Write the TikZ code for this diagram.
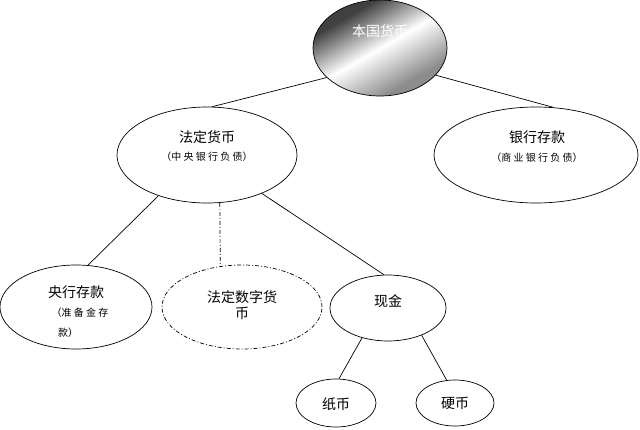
\documentclass[tikz,border=0pt]{standalone}
\usepackage{fontspec}
\setmainfont{Noto Sans CJK SC}
\usetikzlibrary{shapes.geometric}
\pgfdeclarehorizontalshading{rootshade}{100bp}{color(0bp)=(black!75); color(30bp)=(black!75); color(50bp)=(white); color(70bp)=(black!45); color(100bp)=(black!45)}
\begin{document}
\begin{tikzpicture}[x=1pt, y=-1pt,
  oval/.style={ellipse, draw, line width=0.7pt, inner sep=0pt},
  txt/.style={font=\fontsize{14}{16}\selectfont, inner sep=0pt},
  subtxt/.style={font=\fontsize{10}{12}\selectfont, inner sep=0pt},
  link/.style={line width=0.7pt}
]
\useasboundingbox (0,0) rectangle (640,429);

\node[oval, minimum width=134pt, minimum height=96pt, shading=rootshade, shading angle=-60] (root) at (380,48) {};
\node[oval, minimum width=180pt, minimum height=96pt] (fiat) at (207,155) {};
\node[oval, minimum width=204pt, minimum height=96pt] (bank) at (536,155) {};
\node[oval, minimum width=152pt, minimum height=84pt] (cbdep) at (76,307) {};
\node[oval, dash pattern=on 4pt off 2pt on 1pt off 2pt, minimum width=160pt, minimum height=84pt] (digital) at (242,307) {};
\node[oval, minimum width=116pt, minimum height=66pt] (cash) at (388,308) {};
\node[oval, minimum width=80pt, minimum height=48pt] (paper) at (336,403) {};
\node[oval, minimum width=78pt, minimum height=46pt] (coin) at (455,403) {};

% Texte
\node[txt, text=white] (roott) at (380,31) {本国货币};
\node[txt] (fiatt) at (207,137) {法定货币};
\node[subtxt] (fiats) at (207,157) {（中 央 银 行 负 债）};
\node[txt] (bankt) at (537,137) {银行存款};
\node[subtxt] (banks) at (537,158) {（商 业 银 行 负 债）};
\node[txt] (cbdept) at (76,292) {央行存款};
\node[subtxt] (cbdeps) at (80,313) {（准 备 金 存};
\begin{scope}
  \clip (76,307) ellipse (75pt and 38pt);
  \node[subtxt] (cbdeps2) at (68,333) {款）};
\end{scope}
\node[txt, align=center] (digitalt) at (242,305) {法定数字货\\币};
\node[txt] (casht) at (388,301) {现金};
\node[txt] (papert) at (336,404) {纸币};
\node[txt] (coint) at (455,403) {硬币};

% Verbindungen
\draw[link] (root.209) -- (fiat.84);
\draw[link] (root.-26) -- (bank.70);
\draw[link] (fiat.-140) -- (cbdep.74);
\draw[link, dash pattern=on 4pt off 2pt on 1pt off 2pt] (fiat.-75) -- (digital.118);
\draw[link] (fiat.-35) -- (cash.97);
\draw[link] (cash.-131) -- (paper.83);
\draw[link] (cash.-39) -- (coin.110);
\end{tikzpicture}
\end{document}
